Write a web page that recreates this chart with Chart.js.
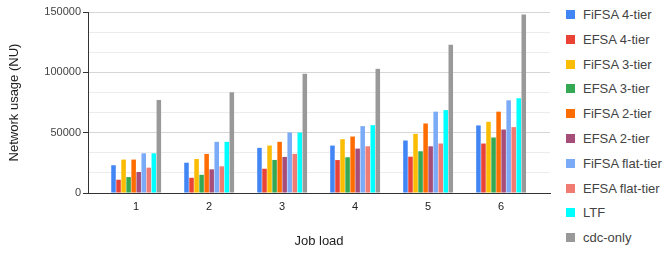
<!DOCTYPE html>
<html>
<head>
<meta charset="utf-8">
<script src="https://cdn.jsdelivr.net/npm/chart.js@4"></script>
<style>
  html, body { margin: 0; padding: 0; background: #fff; }
  #wrap { position: relative; width: 665px; height: 255px; font-family: "Liberation Sans", Arial, sans-serif; }
  #c { position: absolute; left: 0; top: 0; }
  #legend { position: absolute; left: 566px; top: 0; margin: 0; padding: 0; list-style: none; }
  #legend li { position: absolute; left: 0; height: 14px; line-height: 14px; white-space: nowrap; font-size: 13px; color: #444; }
  #legend span.box { position: absolute; left: 0; top: 2px; width: 9px; height: 9px; }
  #legend span.txt { position: absolute; left: 17px; top: 0; }
</style>
</head>
<body>
<div id="wrap">
  <canvas id="c" width="560" height="255"></canvas>
  <ul id="legend"></ul>
</div>
<script>
const categories = [1, 2, 3, 4, 5, 6];
const seriesNames = ["FiFSA 4-tier", "EFSA 4-tier", "FiFSA 3-tier", "EFSA 3-tier", "FiFSA 2-tier", "EFSA 2-tier", "FiFSA flat-tier", "EFSA flat-tier", "LTF", "cdc-only"];
const seriesColors = ["#4285f4", "#ea4335", "#fbbc04", "#34a853", "#ff6d01", "#a64d79", "#7baaf7", "#f07b72", "#00ffff", "#999999"];

const fifsa4 = [23000, 25100, 37400, 39300, 43500, 56000];
const efsa4 = [11000, 12600, 20100, 27300, 30100, 41000];
const fifsa3 = [27700, 28200, 39300, 44600, 49000, 59000];
const efsa3 = [13200, 15100, 27400, 29600, 34600, 46000];
const fifsa2 = [27700, 32400, 42400, 46800, 57600, 67400];
const efsa2 = [17400, 19600, 29900, 36800, 38700, 52600];
const fifsaFlat = [32900, 42400, 50100, 55400, 67400, 76800];
const efsaFlat = [21000, 22100, 32400, 38700, 41000, 54600];
const ltf = [32900, 42400, 50100, 56200, 68700, 78500];
const cdcOnly = [77100, 83500, 98800, 102900, 122900, 147900];

const yTickLabels = [0, 50000, 100000, 150000];
const yAxisTitle = "Network usage (NU)";
const xAxisTitle = "Job load";

const seriesValues = [fifsa4, efsa4, fifsa3, efsa3, fifsa2, efsa2, fifsaFlat, efsaFlat, ltf, cdcOnly];

const FONT = '"Liberation Sans", Arial, sans-serif';

const datasets = seriesNames.map((name, i) => ({
  label: name,
  data: categories.map((c, j) => ({ x: c, y: seriesValues[i][j] })),
  backgroundColor: seriesColors[i],
  borderWidth: 0,
  categoryPercentage: 0.69,
  barPercentage: 0.9
}));

function isMajor(v) {
  return yTickLabels.some(t => Math.abs(t - v) < 1);
}

new Chart(document.getElementById('c'), {
  type: 'bar',
  data: { datasets },
  options: {
    responsive: false,
    animation: false,
    devicePixelRatio: 1,
    layout: { padding: { top: 12, right: 10, left: 0, bottom: 0 } },
    plugins: { legend: { display: false }, tooltip: { enabled: false } },
    scales: {
      x: {
        type: 'linear',
        min: 0.34,
        max: 6.67,
        offset: false,
        grid: { display: false, offset: false, drawTicks: false },
        border: { display: true, color: '#333', width: 1 },
        ticks: {
          includeBounds: false,
          stepSize: 1,
          padding: 7,
          color: '#222',
          font: { family: FONT, size: 11 },
          callback: v => categories.includes(v) ? String(v) : ''
        },
        title: { display: true, text: xAxisTitle, color: '#222', font: { family: FONT, size: 13 }, padding: { top: 0, bottom: 6 } },
        afterFit: s => { s.height = 62; }
      },
      y: {
        min: 0,
        max: 150000,
        grid: {
          color: ctx => isMajor(ctx.tick.value) ? '#d6d6d6' : '#ececec',
          tickColor: ctx => isMajor(ctx.tick.value) ? '#333' : 'rgba(0,0,0,0)',
          tickLength: 5
        },
        border: { display: true, color: '#333', width: 1 },
        ticks: {
          stepSize: 50000 / 3,
          padding: 2,
          color: '#444',
          font: { family: FONT, size: 11 },
          autoSkip: false,
          callback: v => isMajor(v) ? String(Math.round(v)) : ''
        },
        title: { display: true, text: yAxisTitle, color: '#222', font: { family: FONT, size: 13 }, padding: { top: 7, bottom: 0 } },
        afterFit: s => { s.width = 88; }
      }
    }
  }
});

const legend = document.getElementById('legend');
seriesNames.forEach((name, i) => {
  const li = document.createElement('li');
  li.style.top = (8 + i * 24.8) + 'px';
  const box = document.createElement('span');
  box.className = 'box';
  box.style.background = seriesColors[i];
  const txt = document.createElement('span');
  txt.className = 'txt';
  txt.textContent = name;
  li.appendChild(box);
  li.appendChild(txt);
  legend.appendChild(li);
});
</script>
</body>
</html>
